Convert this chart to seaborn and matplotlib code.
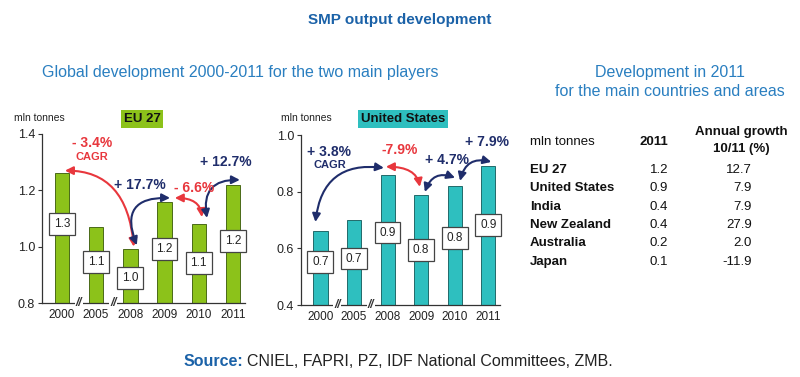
import matplotlib
matplotlib.use("Agg")
import matplotlib.pyplot as plt
import seaborn as sns
import pandas as pd

sns.set_theme(style="white")
plt.rcParams['font.family'] = ['Liberation Sans', 'DejaVu Sans']

# ---------------- data ----------------
years = ["2000", "2005", "2008", "2009", "2010", "2011"]
eu_values = [1.26, 1.07, 0.99, 1.16, 1.08, 1.22]
eu_labels = ["1.3", "1.1", "1.0", "1.2", "1.1", "1.2"]
us_values = [0.66, 0.70, 0.86, 0.79, 0.82, 0.89]
us_labels = ["0.7", "0.7", "0.9", "0.8", "0.8", "0.9"]

eu_growth = ["- 3.4%", "+ 17.7%", "- 6.6%", "+ 12.7%"]
us_growth = ["+ 3.8%", "-7.9%", "+ 4.7%", "+ 7.9%"]

table_countries = ["EU 27", "United States", "India", "New Zealand", "Australia", "Japan"]
table_2011 = ["1.2", "0.9", "0.4", "0.4", "0.2", "0.1"]
table_growth = ["12.7", "7.9", "7.9", "27.9", "2.0", "-11.9"]

# ---------------- style ----------------
W, H = 800, 377
RED = "#e8373d"
NAVY = "#1f2d6b"
BLUE_T = "#1b62a8"
BLUE_S = "#2a7fc0"
GREEN = "#8cc21a"
TEAL = "#2ebfbf"

fig = plt.figure(figsize=(8, 3.77), dpi=100)

def fx(px):
    return px / W

def fy(py):
    return 1 - py / H

ax1 = fig.add_axes([fx(42), fy(303), fx(245) - fx(42), fy(134) - fy(303)])
ax2 = fig.add_axes([fx(301), fy(305), fx(500) - fx(301), fy(135) - fy(305)])

df_eu = pd.DataFrame({"year": years, "value": eu_values})
df_us = pd.DataFrame({"year": years, "value": us_values})

sns.barplot(data=df_eu, x="year", y="value", color=GREEN, saturation=1,
            width=0.42, edgecolor="#4a6a18", linewidth=0.7, ax=ax1)
sns.barplot(data=df_us, x="year", y="value", color=TEAL, saturation=1,
            width=0.42, edgecolor="#226a6a", linewidth=0.7, ax=ax2)

def style_axis(ax, lo, hi, ticks, header, header_color, header_x):
    ax.set_ylim(lo, hi)
    ax.set_xlim(-0.58, 5.35)
    ax.set_yticks(ticks)
    ax.set_yticklabels([f"{t:.1f}" for t in ticks], fontsize=9, color="#222")
    ax.tick_params(axis="y", length=3, width=0.8, color="#333", pad=2, left=True)
    ax.tick_params(axis="x", length=0, pad=4, labelsize=8.5, labelcolor="#222")
    ax.set_xlabel("")
    ax.set_ylabel("")
    for s in ["top", "right"]:
        ax.spines[s].set_visible(False)
    for s in ["left", "bottom"]:
        ax.spines[s].set_color("#333")
        ax.spines[s].set_linewidth(0.9)
    for xb in [0.5, 1.5]:
        ax.text(xb, lo, "//", ha="center", va="center", fontsize=8.5, color="#333",
                style="italic", fontweight="bold", clip_on=False,
                bbox=dict(boxstyle="square,pad=0.05", fc="white", ec="none"))
    fig.text(fx(header_x), fy(119), header, fontsize=9.5, fontweight="bold",
             ha="center", va="center", color="#111",
             bbox=dict(boxstyle="square,pad=0.2", fc=header_color, ec="none"))

style_axis(ax1, 0.8, 1.4, [0.8, 1.0, 1.2, 1.4], "EU 27", GREEN, 142)
style_axis(ax2, 0.4, 1.0, [0.4, 0.6, 0.8, 1.0], "United States", TEAL, 403)
fig.text(fx(14), fy(118), "mln tonnes", fontsize=7.5, ha="left", va="center", color="#222")
fig.text(fx(281), fy(118), "mln tonnes", fontsize=7.5, ha="left", va="center", color="#222")

# value boxes
eu_box_y = [1.08, 0.946, 0.889, 0.992, 0.942, 1.02]
us_box_y = [0.551, 0.564, 0.655, 0.594, 0.636, 0.682]
for i, (lab, yb) in enumerate(zip(eu_labels, eu_box_y)):
    ax1.text(i, yb, lab, ha="center", va="center", fontsize=8.5, color="#222",
             bbox=dict(boxstyle="square,pad=0.4", fc="white", ec="#444", lw=0.9))
for i, (lab, yb) in enumerate(zip(us_labels, us_box_y)):
    ax2.text(i, yb, lab, ha="center", va="center", fontsize=8.5, color="#222",
             bbox=dict(boxstyle="square,pad=0.4", fc="white", ec="#444", lw=0.9))

def arrow(ax, p0, p1, color, conn):
    ax.annotate("", xy=p1, xytext=p0,
                arrowprops=dict(arrowstyle="<|-|>,head_length=0.4,head_width=0.2",
                                color=color, lw=1.5, shrinkA=0, shrinkB=0,
                                connectionstyle=conn),
                annotation_clip=False)

v = eu_values
arrow(ax1, (0.09, v[0] + 0.01), (2.1, v[2] + 0.01), RED, "angle3,angleA=0,angleB=95")
arrow(ax1, (2.19, v[2] + 0.015), (3.16, v[3] + 0.013), NAVY, "arc3,rad=-0.75")
arrow(ax1, (3.3, v[3] + 0.013), (4.09, v[4] + 0.025), RED, "angle3,angleA=0,angleB=95")
arrow(ax1, (4.24, v[4] + 0.022), (5.2, v[5] + 0.017), NAVY, "arc3,rad=-0.6")

ax1.text(0.88, 1.368, eu_growth[0], color=RED, fontsize=10, fontweight="bold", ha="center", va="center")
ax1.text(0.88, 1.318, "CAGR", color=RED, fontsize=8, fontweight="bold", ha="center", va="center")
ax1.text(2.28, 1.219, eu_growth[1], color=NAVY, fontsize=10, fontweight="bold", ha="center", va="center")
ax1.text(3.86, 1.208, eu_growth[2], color=RED, fontsize=10, fontweight="bold", ha="center", va="center")
ax1.text(4.8, 1.30, eu_growth[3], color=NAVY, fontsize=10, fontweight="bold", ha="center", va="center")

u = us_values
arrow(ax2, (-0.15, u[0] + 0.033), (1.89, u[2] + 0.024), NAVY, "arc3,rad=-0.5")
arrow(ax2, (1.95, u[2] + 0.028), (2.96, u[3] + 0.027), RED, "angle3,angleA=0,angleB=100")
arrow(ax2, (3.11, u[3] + 0.009), (4.01, u[4] + 0.029), NAVY, "arc3,rad=-0.5")
arrow(ax2, (4.16, u[4] + 0.018), (5.09, u[5] + 0.015), NAVY, "arc3,rad=-0.5")

ax2.text(0.24, 0.94, us_growth[0], color=NAVY, fontsize=10, fontweight="bold", ha="center", va="center")
ax2.text(0.27, 0.895, "CAGR", color=NAVY, fontsize=8, fontweight="bold", ha="center", va="center")
ax2.text(2.37, 0.948, us_growth[1], color=RED, fontsize=10, fontweight="bold", ha="center", va="center")
ax2.text(3.77, 0.912, us_growth[2], color=NAVY, fontsize=10, fontweight="bold", ha="center", va="center")
ax2.text(4.97, 0.976, us_growth[3], color=NAVY, fontsize=10, fontweight="bold", ha="center", va="center")

# titles
fig.text(0.5, fy(20), "SMP output development", fontsize=11, fontweight="bold",
         color=BLUE_T, ha="center", va="center")
fig.text(fx(42), fy(73), "Global development 2000-2011 for the two main players",
         fontsize=11.5, color=BLUE_S, ha="left", va="center")
fig.text(fx(670), fy(73), "Development in 2011", fontsize=11.5, color=BLUE_S, ha="center", va="center")
fig.text(fx(670), fy(91), "for the main countries and areas", fontsize=11.5, color=BLUE_S,
         ha="center", va="center")

# table
TF = 9.5
fig.text(fx(530), fy(142), "mln tonnes", fontsize=TF, color="#111", ha="left", va="center")
fig.text(fx(668), fy(142), "2011", fontsize=TF, fontweight="bold", color="#111", ha="right", va="center")
fig.text(fx(741), fy(132), "Annual growth", fontsize=TF, fontweight="bold", color="#111", ha="center", va="center")
fig.text(fx(741), fy(149), "10/11 (%)", fontsize=TF, fontweight="bold", color="#111", ha="center", va="center")
row_y = [170, 188, 207, 225, 243, 262]
for c, a, g, ry in zip(table_countries, table_2011, table_growth, row_y):
    fig.text(fx(530), fy(ry), c, fontsize=TF, fontweight="bold", color="#111", ha="left", va="center")
    fig.text(fx(668), fy(ry), a, fontsize=TF, color="#111", ha="right", va="center")
    fig.text(fx(752), fy(ry), g, fontsize=TF, color="#111", ha="right", va="center")

# source
fig.text(fx(243), fy(361), "Source:", fontsize=11.5, fontweight="bold", color=BLUE_T, ha="right", va="center")
fig.text(fx(247), fy(361), "CNIEL, FAPRI, PZ, IDF National Committees, ZMB.", fontsize=11.5,
         color="#222", ha="left", va="center")

fig.savefig("out.png", dpi=100)
